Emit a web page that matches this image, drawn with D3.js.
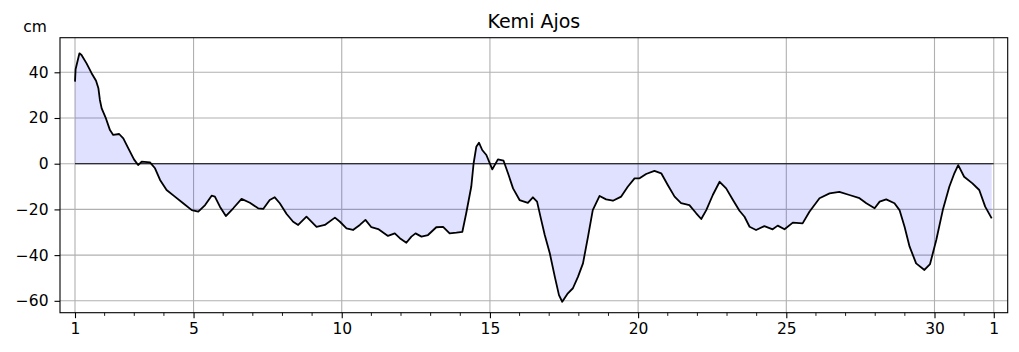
<!DOCTYPE html>
<html>
<head>
<meta charset="utf-8">
<script src="https://cdn.jsdelivr.net/npm/d3@7"></script>
<style>
  html, body { margin: 0; padding: 0; background: #fff; }
  svg { display: block; }
  text { font-family: "DejaVu Sans", sans-serif; fill: #000; }
</style>
</head>
<body>
<svg id="chart" width="1019" height="352"></svg>
<script>
// ---- data ----
const title = "Kemi Ajos";
const unitLabel = "cm";
const days = [1.00,1.02,1.15,1.22,1.39,1.56,1.71,1.79,1.84,1.90,2.03,2.18,2.29,2.49,2.63,2.80,2.99,3.13,3.25,3.53,3.70,3.87,4.09,4.37,4.65,4.94,5.16,5.39,5.61,5.72,5.89,6.09,6.34,6.62,6.90,7.18,7.35,7.57,7.74,7.91,8.14,8.36,8.53,8.81,9.15,9.43,9.77,9.94,10.16,10.38,10.61,10.80,11.00,11.23,11.56,11.79,11.96,12.18,12.35,12.49,12.69,12.91,13.19,13.42,13.64,13.87,14.07,14.20,14.37,14.45,14.54,14.63,14.74,14.88,15.08,15.27,15.46,15.61,15.78,16.00,16.28,16.45,16.59,16.73,16.85,17.02,17.19,17.33,17.44,17.63,17.80,17.97,18.14,18.31,18.47,18.70,18.92,19.15,19.43,19.65,19.88,20.05,20.27,20.55,20.78,21.00,21.23,21.45,21.73,21.96,22.13,22.30,22.52,22.75,22.97,23.20,23.42,23.59,23.76,23.98,24.26,24.54,24.71,24.94,25.22,25.55,25.78,26.12,26.46,26.79,27.13,27.47,27.70,27.98,28.15,28.37,28.65,28.82,28.99,29.16,29.38,29.66,29.85,30.06,30.28,30.50,30.67,30.80,31.00,31.28,31.51,31.71,31.93];
const levels = [35.9,41.3,48.3,47.6,43.9,39.6,36.3,33.0,27.9,24.2,20.3,14.7,12.6,13.0,11.1,6.7,1.9,-0.6,0.9,0.6,-2.0,-7.1,-11.5,-14.4,-17.3,-20.3,-21.0,-18.1,-14.0,-14.4,-18.8,-22.9,-19.5,-15.4,-17.1,-19.5,-19.8,-15.9,-14.7,-17.3,-22.0,-25.4,-26.8,-23.2,-27.6,-26.8,-23.6,-25.4,-28.3,-29.0,-26.8,-24.6,-27.8,-28.6,-31.6,-30.5,-32.6,-34.6,-31.9,-30.5,-31.9,-31.2,-27.8,-27.6,-30.5,-30.2,-29.8,-21.7,-10.1,0.2,7.4,9.2,6.0,3.8,-2.5,1.9,1.3,-4.2,-10.8,-15.9,-17.1,-14.7,-16.6,-24.6,-31.2,-39.2,-49.5,-57.5,-60.4,-56.7,-54.5,-49.5,-43.6,-31.9,-20.3,-14.1,-15.6,-16.2,-14.4,-10.1,-6.4,-6.4,-4.5,-3.1,-4.2,-9.3,-14.4,-17.3,-18.1,-21.7,-24.2,-20.3,-13.7,-7.9,-10.8,-15.9,-20.6,-23.2,-27.6,-29.0,-27.3,-28.7,-27.1,-28.7,-25.8,-26.1,-21.0,-15.1,-13.0,-12.3,-13.7,-15.1,-17.3,-19.5,-16.6,-15.6,-17.3,-20.3,-27.6,-36.3,-43.6,-46.5,-43.9,-33.4,-20.3,-10.1,-4.2,-0.6,-5.7,-8.6,-11.5,-18.8,-23.9];
const xTickValues = [1, 5, 10, 15, 20, 25, 30, 32];
const xTickLabels = ["1", "5", "10", "15", "20", "25", "30", "1"];
const xMinorTicks = d3.range(1, 33);
const yTickValues = [-60, -40, -20, 0, 20, 40];
const xDomain = [0.494, 32.47];
const yDomain = [-65.2, 55.14];
const zeroLineSpan = [1, 32];

// ---- layout ----
const plot = { left: 60, top: 37.7, right: 1007.7, bottom: 312.7 };
const svg = d3.select("#chart");
svg.append("rect").attr("width", 1019).attr("height", 352).attr("fill", "#fff");

const x = d3.scaleLinear().domain(xDomain).range([plot.left, plot.right]);
const y = d3.scaleLinear().domain(yDomain).range([plot.bottom, plot.top]);

const data = days.map((d, i) => ({ d, v: levels[i] }));

// grid
const grid = svg.append("g").attr("stroke", "#b0b0b0").attr("stroke-width", 1.1);
grid.selectAll("line.gx").data(xTickValues).join("line")
  .attr("x1", d => x(d)).attr("x2", d => x(d))
  .attr("y1", plot.top).attr("y2", plot.bottom);
grid.selectAll("line.gy").data(yTickValues).join("line")
  .attr("x1", plot.left).attr("x2", plot.right)
  .attr("y1", d => y(d)).attr("y2", d => y(d));

// fill between curve and zero
const area = d3.area().x(d => x(d.d)).y0(y(0)).y1(d => y(d.v));
svg.append("path").datum(data)
  .attr("d", area)
  .attr("fill", "rgba(0,0,255,0.12)")
  .attr("stroke", "none");

// zero line
svg.append("line")
  .attr("x1", x(zeroLineSpan[0])).attr("x2", x(zeroLineSpan[1]))
  .attr("y1", y(0)).attr("y2", y(0))
  .attr("stroke", "#000").attr("stroke-width", 1.1);

// water level line
const line = d3.line().x(d => x(d.d)).y(d => y(d.v));
svg.append("path").datum(data)
  .attr("d", line)
  .attr("fill", "none")
  .attr("stroke", "#000")
  .attr("stroke-width", 1.8)
  .attr("stroke-linejoin", "round");

// axes
const fontSize = "15.5px";
const xAxis = d3.axisBottom(x)
  .tickValues(xTickValues)
  .tickFormat((d, i) => xTickLabels[i])
  .tickSizeInner(5.5).tickSizeOuter(0).tickPadding(5);
const gx = svg.append("g").attr("transform", `translate(0,${plot.bottom})`).call(xAxis);
gx.select(".domain").remove();
gx.selectAll("text").style("font-size", fontSize).style("font-family", "DejaVu Sans");
gx.selectAll("line").attr("stroke-width", 1.1);

// minor ticks
svg.append("g").selectAll("line").data(xMinorTicks.filter(d => !xTickValues.includes(d))).join("line")
  .attr("x1", d => x(d)).attr("x2", d => x(d))
  .attr("y1", plot.bottom).attr("y2", plot.bottom + 3.2)
  .attr("stroke", "#000").attr("stroke-width", 0.9);

const yAxis = d3.axisLeft(y)
  .tickValues(yTickValues)
  .tickFormat(d => d < 0 ? "\u2212" + Math.abs(d) : String(d))
  .tickSizeInner(5.5).tickSizeOuter(0).tickPadding(6);
const gy = svg.append("g").attr("transform", `translate(${plot.left},0)`).call(yAxis);
gy.select(".domain").remove();
gy.selectAll("text").style("font-size", fontSize).style("font-family", "DejaVu Sans");
gy.selectAll("line").attr("stroke-width", 1.1);

// frame
svg.append("rect")
  .attr("x", plot.left).attr("y", plot.top)
  .attr("width", plot.right - plot.left).attr("height", plot.bottom - plot.top)
  .attr("fill", "none").attr("stroke", "#000").attr("stroke-width", 1.1);

// title and unit
svg.append("text")
  .attr("x", (plot.left + plot.right) / 2).attr("y", 28.3)
  .attr("text-anchor", "middle")
  .style("font-size", "19px")
  .text(title);
svg.append("text")
  .attr("x", 23.3).attr("y", 32.3)
  .style("font-size", fontSize)
  .text(unitLabel);
</script>
</body>
</html>
